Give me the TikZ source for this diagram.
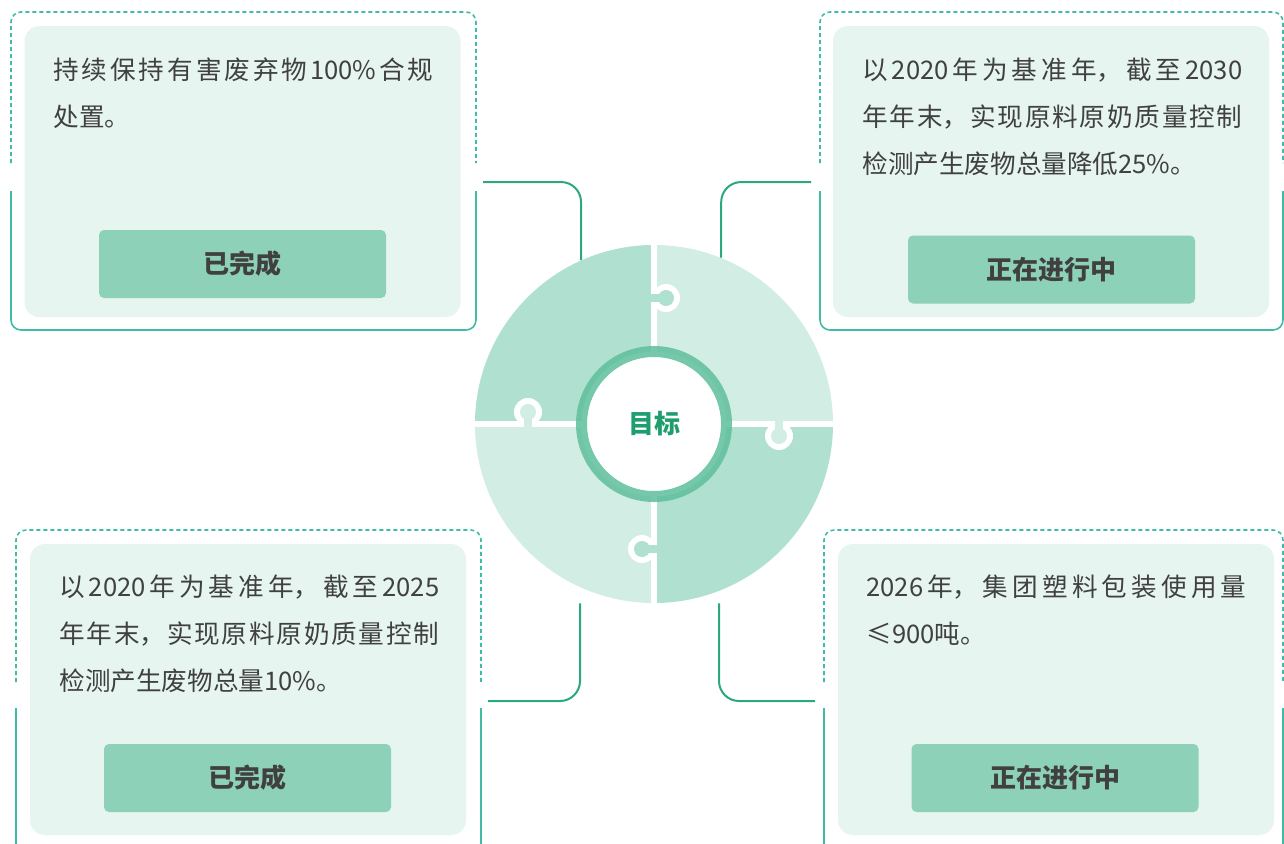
\documentclass[tikz,border=0pt]{standalone}
\usepackage{fontspec}
\setmainfont{Noto Sans CJK SC}
\XeTeXlinebreaklocale "zh"
\XeTeXlinebreakskip=0pt plus 3pt
\definecolor{framec}{HTML}{40BCA6}
\definecolor{linkc}{HTML}{2BA87E}
\definecolor{cardc}{HTML}{E6F5EF}
\definecolor{btnc}{HTML}{8CD1B8}
\definecolor{pdark}{HTML}{B0E0D0}
\definecolor{plight}{HTML}{D2EDE3}
\definecolor{ringc}{HTML}{5EBF9C}
\definecolor{goalc}{HTML}{1E9D6E}
\definecolor{txtc}{HTML}{404040}

\begin{document}
\begin{tikzpicture}[x=0.5pt,y=-0.5pt,
		card node/.style={rectangle,rounded corners=7.5pt,fill=cardc,minimum width=218pt,minimum height=145.5pt,inner sep=0pt},
		btn node/.style={rectangle,rounded corners=2.5pt,fill=btnc,minimum width=143.5pt,minimum height=34pt,inner sep=0pt,font=\fontsize{13}{15}\selectfont\bfseries,text=txtc},
		desc node/.style={anchor=base west,inner sep=0pt,text width=190pt,align=justify,font=\fontsize{12.8}{23.5}\selectfont,text=txtc},
		dash frame/.style={draw=framec,line width=0.8pt,dash pattern=on 2pt off 1.5pt,rounded corners=5pt},
		solid frame/.style={draw=framec,line width=0.8pt,rounded corners=5pt},
		link line/.style={draw=linkc,line width=1pt,rounded corners=10pt}]
		\clip (0,0) rectangle (1284,843);
		\fill[white] (0,0) rectangle (1284,843);
		% frames, broken where the links come in
		\foreach \xa/\ya/\xb/\yb/\ga/\gb in {11/12/476/330/163/191, 820/12/1283/330/163/191, 16/530/481/870/682/708, 824/530/1283/870/682/708} {
			\draw[dash frame] (\xa,\ga) -- (\xa,\ya) -- (\xb,\ya) -- (\xb,\ga);
			\draw[solid frame] (\xa,\gb) -- (\xa,\yb) -- (\xb,\yb) -- (\xb,\gb);
		}
		\node[card node] (card1) at (242.5,171.5) {};
		\node[card node] (card2) at (1051,171.5) {};
		\node[card node] (card3) at (248,689.5) {};
		\node[card node] (card4) at (1056,689.5) {};
		\node[btn node] (btn1) at (242.5,264) {已完成};
		\node[btn node] (btn2) at (1051.5,269.5) {正在进行中};
		\node[btn node] (btn3) at (247.5,778) {已完成};
		\node[btn node] (btn4) at (1055,778) {正在进行中};
		\node[desc node] (txt1) at (53,79) {持续保持有害废弃物100\%合规\linebreak 处置。};
		\node[desc node] (txt2) at (862,79) {以2020年为基准年，截至2030\linebreak 年年末，实现原料原奶质量控制\linebreak 检测产生废物总量降低25\%。};
		\node[desc node] (txt3) at (59,596) {以2020年为基准年，截至2025\linebreak 年年末，实现原料原奶质量控制\linebreak 检测产生废物总量10\%。};
		\node[desc node] (txt4) at (866,596) {2026年，集团塑料包装使用量\linebreak ≤900吨。};
		% puzzle
		\coordinate (o) at (654,424);
		\foreach \a/\c in {180/pdark,270/plight,0/pdark,90/plight}
			\fill[\c] (o) -- +(\a:179) arc[start angle=\a,delta angle=90,radius=179] -- cycle;
		\draw[white,line width=3pt] (654,240) -- (654,608) (470,424) -- (838,424);
		\foreach \kx/\ky/\nx/\ny/\c in {666/298/640/298/pdark, 779/436/779/410/plight, 642/549/668/549/pdark, 528/412/528/438/plight} {
			\fill[white] (\kx,\ky) circle[radius=14];
			\draw[\c,line width=4pt] (\nx,\ny) -- (\kx,\ky);
			\fill[\c] (\kx,\ky) circle[radius=8];
		}
		\node[circle,minimum size=179pt,inner sep=0pt] (puzzle) at (o) {};
		\node[circle,minimum size=72.5pt,inner sep=0pt,fill=white,draw=ringc,draw opacity=0.85,line width=5.5pt,font=\fontsize{13}{15}\selectfont\bfseries,text=goalc] (goal) at (o) {目标};
		% links
		\coordinate (a1) at (483,182);
		\coordinate (a2) at (811,182);
		\coordinate (a3) at (488,701);
		\coordinate (a4) at (815,701);
		\draw[link line] (a1) -| (puzzle.114.4);
		\draw[link line] (a2) -| (puzzle.68.7);
		\draw[link line] (a3) -| ([xshift=-37pt]puzzle.south);
		\draw[link line] (a4) -| ([xshift=32.5pt]puzzle.south);
\end{tikzpicture}
\end{document}
